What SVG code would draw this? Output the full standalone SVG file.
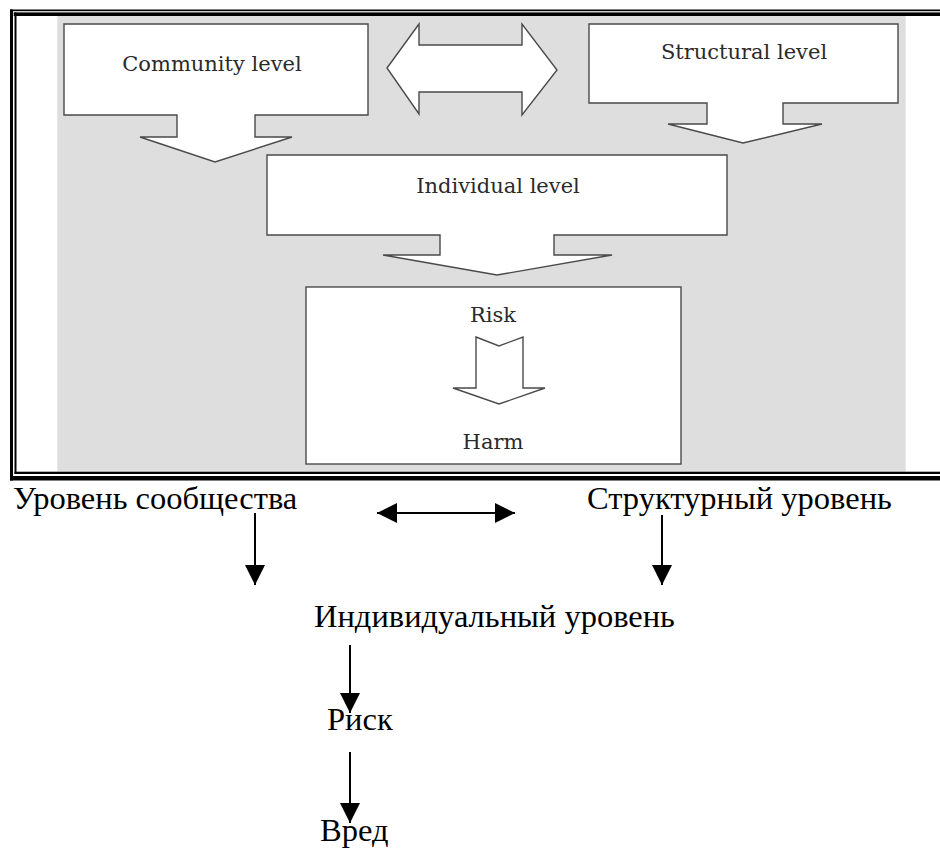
<svg xmlns="http://www.w3.org/2000/svg" width="940" height="850" viewBox="0 0 940 850">
<defs>
<style>
.frame{fill:#000}
.shape{fill:#fff;stroke:#4a4a4a;stroke-width:1.4;stroke-linejoin:miter}
.en{font-family:"DejaVu Serif","Liberation Serif",serif;font-size:21px;fill:#2a2a2a;text-anchor:middle}
.ru{font-family:"Liberation Serif","Times New Roman",serif;font-size:32.5px;fill:#000}
.ln{stroke:#000;stroke-width:2;fill:none}
</style>
<marker id="ah" viewBox="0 0 20 20" refX="20" refY="10" markerWidth="20" markerHeight="20" markerUnits="userSpaceOnUse" orient="auto-start-reverse">
<path d="M0,0 L20,10 L0,20 Z" fill="#000"/>
</marker>
</defs>
<rect width="940" height="850" fill="#fff"/>
<g id="frame">
<rect x="57.3" y="16" width="848.4" height="455.6" fill="#dedede"/>
<rect class="frame" x="10" y="9.5" width="930" height="1.7"/>
<rect class="frame" x="13.7" y="12.4" width="926.3" height="3.6"/>
<rect class="frame" x="10" y="9.5" width="3" height="471"/>
<rect class="frame" x="14.5" y="12.4" width="2" height="461.6"/>
<rect class="frame" x="14.5" y="471.7" width="925.5" height="2.3"/>
<rect class="frame" x="10" y="476" width="930" height="4.5"/>
</g>
<g id="community">
<path class="shape" d="M64,24 H368 V115 H255 V137 H292 L215,162 L140,137 H177 V115 H64 Z"/>
<text class="en" x="212" y="71">Community level</text>
</g>
<g id="link">
<path class="shape" d="M387,68 L419,24 V45 H522 V24 L557,70 L522,115 V92 H419 V114 Z"/>
</g>
<g id="structural">
<path class="shape" d="M589,24 H898 V103 H783 V124 H822 L743,143 L668,124 H707 V103 H589 Z"/>
<text class="en" x="744" y="59">Structural level</text>
</g>
<g id="individual">
<path class="shape" d="M267,155 H727 V235 H554 V255 H612 L497,275 L383,255 H440 V235 H267 Z"/>
<text class="en" x="498" y="193">Individual level</text>
</g>
<g id="riskharm">
<rect class="shape" x="306" y="287" width="375" height="177"/>
<path class="shape" d="M476,337 L499,346 L523,337 V388 H545 L499,404 L453,388 H476 Z"/>
<text class="en" x="493" y="322">Risk</text>
<text class="en" x="493" y="449">Harm</text>
</g>
<g id="ru-community"><text class="ru" x="13" y="509">Уровень сообщества</text></g>
<g id="ru-structural"><text class="ru" x="587" y="509">Структурный уровень</text></g>
<g id="ru-individual"><text class="ru" x="314" y="627">Индивидуальный уровень</text></g>
<g id="ru-risk"><text class="ru" x="327" y="730">Риск</text></g>
<g id="ru-harm"><text class="ru" x="320" y="841">Вред</text></g>
<g id="connectors">
<line class="ln" x1="377" y1="513" x2="515" y2="513" marker-start="url(#ah)" marker-end="url(#ah)"/>
<line class="ln" x1="255" y1="513" x2="255" y2="585" marker-end="url(#ah)"/>
<line class="ln" x1="662" y1="515" x2="662" y2="585" marker-end="url(#ah)"/>
<line class="ln" x1="350" y1="645" x2="350" y2="713" marker-end="url(#ah)"/>
<line class="ln" x1="350" y1="752" x2="350" y2="823" marker-end="url(#ah)"/>
</g>
</svg>
